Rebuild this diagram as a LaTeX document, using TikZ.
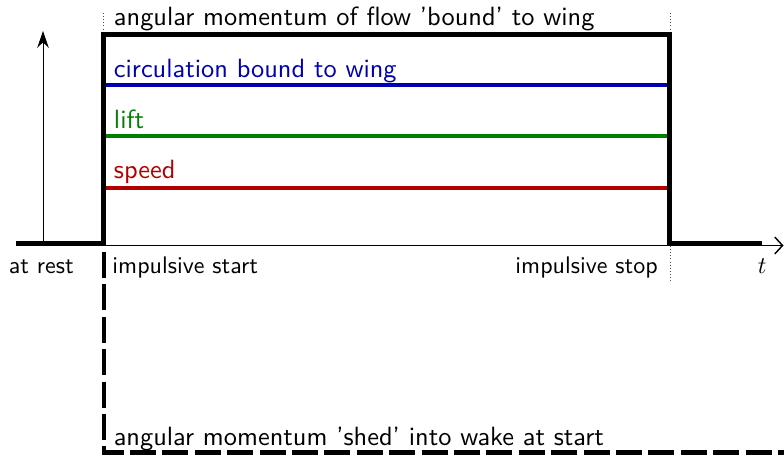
\documentclass[tikz,border=0pt]{standalone}
\usetikzlibrary{arrows.meta}
\definecolor{cblue}{RGB}{0,0,176}
\definecolor{cgreen}{RGB}{0,128,0}
\definecolor{cred}{RGB}{176,0,0}
\tikzset{
  lbl/.style={anchor=base west,inner sep=0pt,font=\sffamily},
  biglbl/.style={anchor=base west,inner sep=0pt,font=\sffamily\fontsize{10.99pt}{13pt}\selectfont},
  thickblack/.style={line width=1.8pt},
  level/.style={line width=1.65pt},
  guide/.style={line width=0.3pt,densely dotted,black!70},
  axisline/.style={line width=0.4pt},
  shed/.style={line width=1.8pt,dash pattern=on 10.8pt off 2.7pt}
}
\begin{document}
\begin{tikzpicture}[x=0.416667pt,y=-0.416667pt]
\useasboundingbox (0,0) rectangle (784,456);
% coordinates
\coordinate (a0) at (16,245.5);
\coordinate (a1) at (783.5,245.5);
\coordinate (v0) at (43,245.5);
\coordinate (v1) at (43,31);
\coordinate (p0) at (16,243.5);
\coordinate (p1) at (103.5,243.5);
\coordinate (p2) at (103.5,34.5);
\coordinate (p3) at (669.5,34.5);
\coordinate (p4) at (669.5,243.5);
\coordinate (p5) at (762,243.5);
\coordinate (bl) at (103.5,84.7);
\coordinate (br) at (669.5,84.7);
\coordinate (gl) at (103.5,136.3);
\coordinate (gr) at (669.5,136.3);
\coordinate (rl) at (103.5,188);
\coordinate (rr) at (669.5,188);
\coordinate (d0) at (103.8,252);
\coordinate (d1) at (103.8,452.5);
\coordinate (d2) at (784,452.5);
\coordinate (g1a) at (103.5,13);
\coordinate (g1b) at (103.5,33);
\coordinate (g2a) at (670,13);
\coordinate (g2b) at (670,33);
\coordinate (g3a) at (670,246);
\coordinate (g3b) at (670,283);
% axes
\draw[axisline,-{Straight Barb[length=3.2pt,width=7pt,line width=0.6pt]}] (a0) -- (a1);
\draw[axisline,-{Stealth[length=7pt,width=4.8pt]}] (v0) -- (v1);
% guides
\draw[guide] (g1a) -- (g1b);
\draw[guide] (g2a) -- (g2b);
\draw[guide] (g3a) -- (g3b);
% levels
\draw[level,cblue] (bl) -- (br);
\draw[level,cgreen] (gl) -- (gr);
\draw[level,cred] (rl) -- (rr);
% bound angular momentum
\draw[thickblack] (p0) -- (p1) -- (p2) -- (p3) -- (p4) -- (p5);
% shed
\draw[shed] (d0) -- (d1) -- (d2);
% labels
\node[biglbl] (top) at (113.5,25.7) {angular momentum of flow 'bound' to wing};
\node[biglbl,text=cblue] (circ) at (113.5,77.3) {circulation bound to wing};
\node[biglbl,text=cgreen] (lift) at (113.5,128.3) {lift};
\node[biglbl,text=cred] (speed) at (113.5,179) {speed};
\node[lbl] (rest) at (8.3,273.3) {at rest};
\node[lbl] (start) at (112,273.3) {impulsive start};
\node[lbl] (stop) at (515,273.3) {impulsive stop};
\node[anchor=base west,inner sep=0pt] (t) at (757.5,273.3) {$t$};
\node[biglbl] (shedlbl) at (113.3,445) {angular momentum 'shed' into wake at start};
\end{tikzpicture}
\end{document}
